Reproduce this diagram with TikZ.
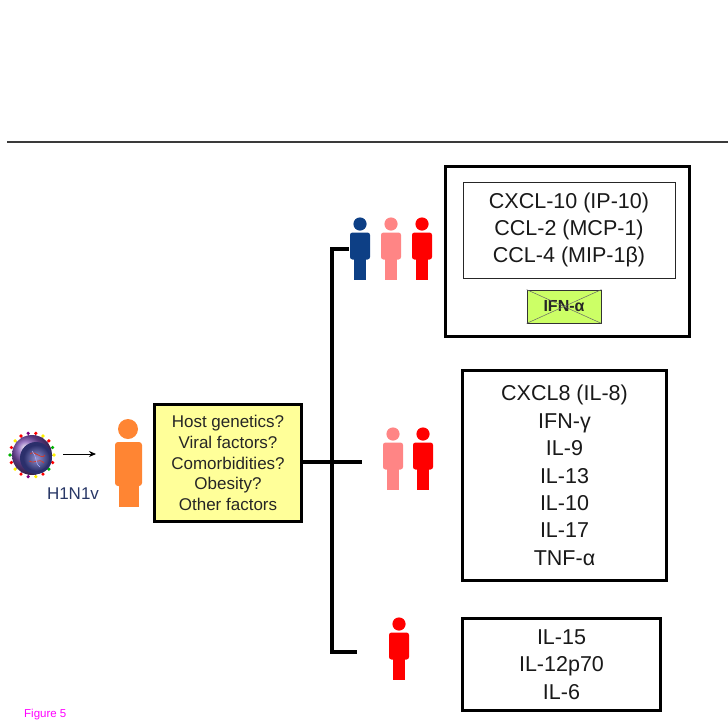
\documentclass[tikz,border=0pt]{standalone}
\usepackage{fontspec}
\setmainfont{Liberation Sans}
\usetikzlibrary{arrows.meta}
\definecolor{personblue}{HTML}{0D3F85}
\definecolor{personpink}{HTML}{FF8585}
\definecolor{personred}{HTML}{FF0000}
\definecolor{personorange}{HTML}{FF8533}
\definecolor{factoryellow}{HTML}{FFFF99}
\definecolor{ifngreen}{HTML}{CCFF66}
\definecolor{labelnavy}{HTML}{283766}
\definecolor{rulegray}{HTML}{3A3A3A}
\definecolor{figmagenta}{HTML}{FF00FF}
\definecolor{shellpurple}{HTML}{7A4FB0}
\definecolor{corenavy}{HTML}{2B2F6B}
\begin{document}
\begin{tikzpicture}[x=1pt,y=-1pt,
  bigbox/.style={draw=black, line width=3pt, fill=white, inner sep=0pt},
  cytotext/.style={font=\fontsize{21.5}{27.4}\selectfont, align=center, text=black!90},
  factortext/.style={font=\fontsize{17}{20.8}\selectfont, align=center, text=black!85},
  branch/.style={line width=3.2pt, black},
  pics/person/.style={code={
    \fill[#1] (0,0) circle (6.6);
    \fill[#1, rounded corners=2.5pt] (-10,8.5) rectangle (10,35.5);
    \fill[#1] (-6,34) rectangle (6,56);
  }}
]
\useasboundingbox (0,0) rectangle (728,721);

% separating rule at the top
\draw[rulegray, line width=1.6pt] (7,142) -- (728,142);

% virus particle
\foreach \a/\c in {0/yellow,20/red,40/green!70!black,60/red,80/yellow,100/violet,120/red,140/yellow,160/red,180/green!70!black,200/red,220/yellow,240/red,260/violet,280/red,300/yellow,320/red,340/green!70!black}{
  \draw[shellpurple, line width=1pt] (32,455) ++(\a:18) -- ++(\a:4);
  \fill[\c] (32,455) ++(\a:22) circle (1.8);
}
\shade[ball color=shellpurple] (32,455) circle (20);
\fill[corenavy] (36,458) circle (16);
\shade[inner color=gray!60!blue!60, outer color=corenavy] (36.5,458) circle (13);
\draw[red!60!brown, line width=0.6pt] (30,454) .. controls (35,449) and (41,461) .. (45,455);
\draw[red!60!brown, line width=0.6pt] (29,461) .. controls (34,465) and (39,457) .. (44,463);
\draw[blue!30, line width=0.5pt] (32,451) .. controls (37,455) and (35,465) .. (40,467);

\node[font=\fontsize{17}{19}\selectfont, text=labelnavy] (h1n1) at (73,494) {H1N1v};
\coordinate (virusr) at (63,454);
\coordinate (patientl) at (96,454);
\draw[-{Stealth[length=7pt,width=6pt]}, line width=0.8pt] (virusr) -- (patientl);

% infected patient
\fill[personorange] (128,429) circle (10);
\fill[personorange, rounded corners=3pt] (115,442) rectangle (142,486);
\fill[personorange] (118.5,484) rectangle (139,507);

% host and viral factors
\node[bigbox, fill=factoryellow, minimum width=147pt, minimum height=117pt, factortext]
  (factors) at (228,463) {Host genetics?\\Viral factors?\\Comorbidities?\\Obesity?\\Other factors};

% branching connectors
\coordinate (hend) at (362,462);
\coordinate (vtop) at (332,249);
\coordinate (vbot) at (332,652);
\coordinate (ttip) at (349,249);
\coordinate (btip) at (357,652);
\draw[branch] (factors.east |- hend) -- (hend);
\draw[branch] (ttip) -- (vtop) -- (vbot) -- (btip);

% patient groups
\pic at (360,224) {person=personblue};
\pic at (391,224) {person=personpink};
\pic at (422,224) {person=personred};
\pic at (393,434) {person=personpink};
\pic at (423,434) {person=personred};
\pic at (399,624) {person=personred};

% cytokine panels
\node[bigbox, minimum width=244pt, minimum height=170pt] (topbox) at (567.5,251.5) {};
\node[draw=black!85, line width=0.9pt, minimum width=212pt, minimum height=96pt, inner sep=0pt, cytotext]
  (chemo) at (569,230) {CXCL-10 (IP-10)\\CCL-2 (MCP-1)\\CCL-4 (MIP-1β)};
\node[draw=black!80, fill=ifngreen, line width=0.8pt, minimum width=74pt, minimum height=33pt, inner sep=0pt,
  font=\bfseries\fontsize{16}{18}\selectfont, text=black!85] (ifna) at (564,306.5) {IFN-α};
\draw[gray!80!black, line width=0.5pt] (ifna.north west) -- (ifna.south east);
\draw[gray!80!black, line width=0.5pt] (ifna.north east) -- (ifna.south west);

\node[bigbox, minimum width=204pt, minimum height=210pt, cytotext] (midbox) at (564.5,475.5)
  {CXCL8 (IL-8)\\IFN-γ\\IL-9\\IL-13\\IL-10\\IL-17\\TNF-α};

\node[bigbox, minimum width=198pt, minimum height=92pt, cytotext] (botbox) at (561.5,664.5)
  {IL-15\\IL-12p70\\IL-6};

% caption
\node[anchor=base west, inner sep=0pt, font=\fontsize{11.5}{13}\selectfont, text=figmagenta] (caption) at (24,717) {Figure 5};
\end{tikzpicture}
\end{document}
